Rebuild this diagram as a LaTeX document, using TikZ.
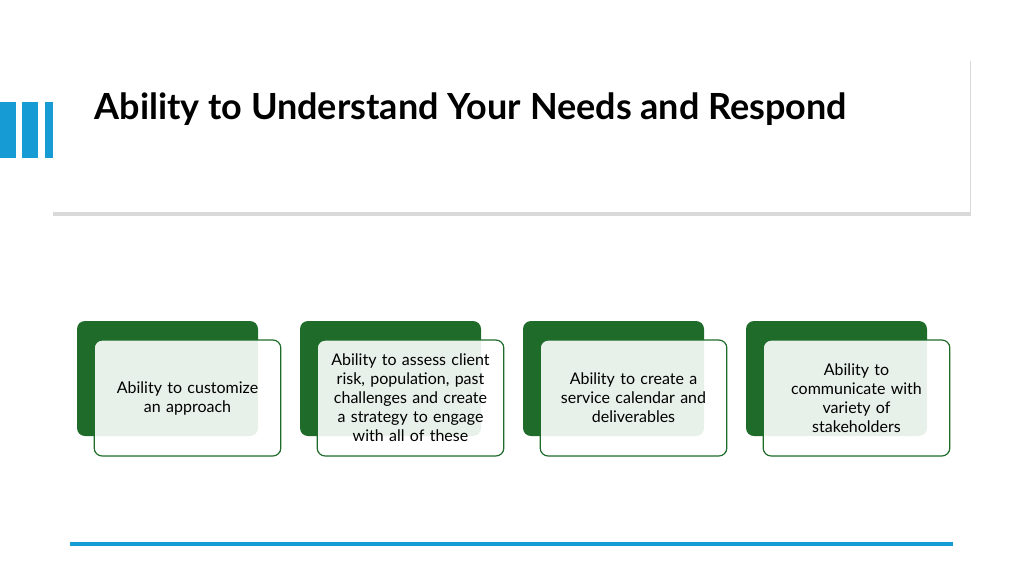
\documentclass[tikz,border=0pt]{standalone}
\usepackage{fontspec}
\setmainfont{Lato}
\usetikzlibrary{positioning,shadows}
\definecolor{barblue}{HTML}{169BD5}
\definecolor{cardgreen}{HTML}{1E6B2A}

\begin{document}
\begin{tikzpicture}[x=1pt,y=-1pt,
  back card/.style={fill=cardgreen,rounded corners=8pt},
  front card/.style={draw=cardgreen,line width=1.2pt,fill=white,fill opacity=0.9,text opacity=1,rounded corners=8pt,align=center,font=\fontsize{16}{19}\selectfont,text width=180pt}]
	\useasboundingbox (0,0) rectangle (1024,576);
	% blue bars
	\fill[barblue] (0,102) rectangle (16,158);
	\fill[barblue] (22,102) rectangle (38,158);
	\fill[barblue] (45,102) rectangle (53,158);
	% title
	\fill[black!15] (53,61) rectangle (971,216);
	\node[fill=white,minimum width=917pt,minimum height=155pt,anchor=north west] (head) at (53,57) {};
	\node[anchor=west,font=\fontsize{36}{42}\selectfont\bfseries] (title) at (91,109) {Ability to Understand Your Needs and Respond};
	% cards
	\foreach \i/\txt in {0/{Ability to customize\\an approach},
	                   1/{Ability to assess client\\risk, population, past\\challenges and create\\a strategy to engage\\with all of these},
	                   2/{Ability to create a\\service calendar and\\deliverables},
	                   3/{Ability to\\communicate with\\variety of\\stakeholders}}{
		\fill[back card] ({77+223*\i},321) rectangle ({258+223*\i},436);
		\node[front card,minimum width=183pt,minimum height=116pt] (card\i) at ({187.5+223*\i},398) {\txt};
	}
	% bottom rule
	\draw[barblue,line width=3.5pt] (70,544) -- (953,544);
\end{tikzpicture}
\end{document}
